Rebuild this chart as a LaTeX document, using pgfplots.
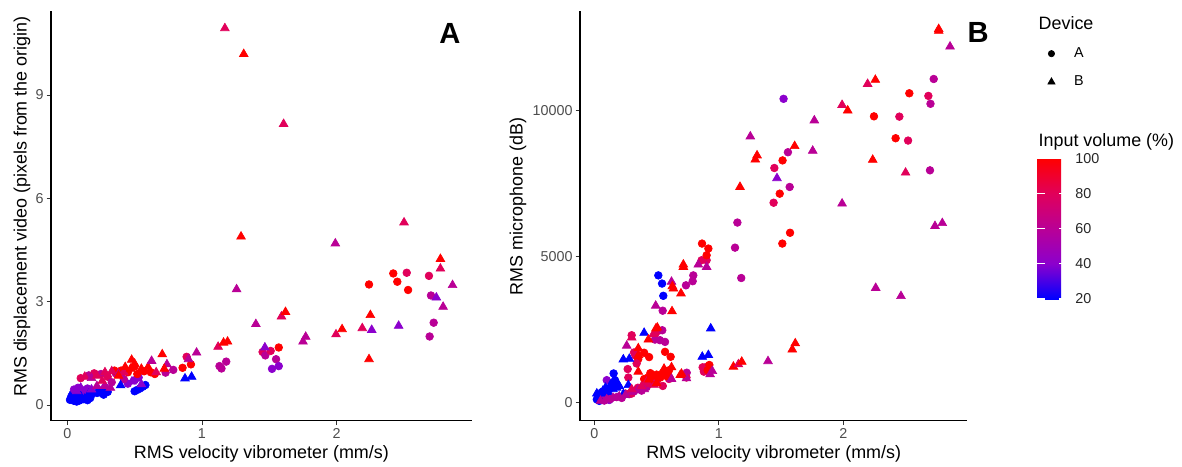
\documentclass[border=0pt]{standalone}
\usepackage{fontspec}
\setmainfont{Liberation Sans}
\usepackage{pgfplots}
\usepackage{pgfplotstable}
\pgfplotsset{compat=1.18}
\definecolor{tickgray}{HTML}{333333}
\definecolor{labgray}{HTML}{4D4D4D}
\pgfplotsset{colormap={bluered}{rgb255=(0,0,255) rgb255=(140,0,205) rgb255=(185,0,150) rgb255=(225,0,90) rgb255=(255,0,0)}}

\pgfplotstableread{
x y c
0.02 0.15 20
0.03 0.25 20
0.05 0.12 20
0.06 0.20 20
0.08 0.30 20
0.09 0.13 20
0.10 0.22 20
0.12 0.17 20
0.14 0.26 20
0.15 0.14 20
0.17 0.20 20
0.18 0.30 20
0.04 0.32 20
0.07 0.10 20
0.11 0.30 20
0.22 0.35 20
0.25 0.42 20
0.27 0.30 20
0.30 0.38 20
0.50 0.40 20
0.52 0.44 20
0.54 0.48 20
0.56 0.53 20
0.58 0.58 20
0.05 0.45 40
0.08 0.50 40
0.12 0.42 40
0.15 0.48 40
0.45 0.62 40
0.50 0.72 40
0.53 0.80 40
0.28 0.52 40
0.10 0.78 80
0.16 0.86 60
0.20 0.92 80
0.25 0.90 60
0.30 0.82 80
0.36 0.92 60
0.40 0.88 80
0.33 0.66 60
0.42 0.75 60
0.40 1.00 100
0.45 0.95 100
0.50 1.12 100
0.52 0.90 100
0.57 0.98 100
0.62 0.95 100
0.65 0.90 100
0.35 1.00 100
0.73 0.94 60
0.787 1.02 60
0.856 1.08 100
0.918 1.18 100
0.886 1.40 80
1.13 1.13 60
1.145 1.06 60
1.18 1.26 60
1.45 1.54 80
1.47 1.44 60
1.51 1.57 80
1.55 1.33 60
1.57 1.67 100
1.57 1.13 40
1.52 1.05 40
2.24 3.50 100
2.42 3.82 100
2.45 3.58 100
2.52 3.84 80
2.53 3.34 100
2.685 3.75 80
2.70 3.18 60
2.72 2.39 60
2.69 1.99 60
}\dataAA

\pgfplotstableread{
x y c
0.03 0.20 20
0.06 0.28 20
0.10 0.25 20
0.13 0.18 20
0.16 0.32 20
0.23 0.39 20
0.29 0.44 20
0.26 0.33 20
0.396 0.57 20
0.874 0.77 20
0.923 0.82 20
0.10 0.50 40
0.18 0.45 40
0.07 0.40 40
0.48 0.68 40
0.55 0.60 40
0.22 0.55 60
0.28 0.55 60
0.32 0.50 60
0.13 0.82 80
0.18 0.78 60
0.22 0.85 80
0.28 0.95 80
0.33 0.98 80
0.38 0.90 60
0.42 0.95 80
0.26 0.70 80
0.38 0.85 100
0.43 1.10 100
0.47 1.05 100
0.478 1.31 100
0.55 1.05 100
0.60 1.10 100
0.50 1.20 100
0.626 1.28 60
0.705 1.47 100
0.74 1.18 60
0.72 1.05 100
0.66 0.95 80
0.90 1.33 60
0.96 1.52 60
1.12 1.69 80
1.16 1.81 100
1.19 1.84 100
1.17 10.94 80
1.31 10.19 100
1.29 4.89 100
1.257 3.36 60
1.40 2.35 60
1.467 1.67 40
1.59 2.57 80
1.606 8.16 80
1.62 2.70 100
1.75 1.84 60
1.77 1.98 60
1.99 4.69 60
1.995 2.05 80
2.04 2.20 100
2.19 2.23 80
2.24 1.33 100
2.25 2.61 100
2.26 2.18 40
2.46 2.30 40
2.50 5.30 80
2.74 3.12 40
2.77 4.24 100
2.77 3.96 80
2.79 2.85 60
2.86 3.48 60
}\dataAB

\pgfplotstableread{
x y c
0.02 100 20
0.03 250 20
0.05 150 20
0.06 350 20
0.08 200 20
0.10 300 20
0.12 450 20
0.14 550 20
0.15 650 20
0.04 50 20
0.07 80 20
0.09 120 20
0.155 990 20
0.166 760 20
0.514 4350 20
0.544 4070 20
0.554 3650 20
0.10 760 40
0.08 100 40
0.12 80 40
0.08 60 60
0.13 120 60
0.18 180 60
0.22 150 60
0.28 280 60
0.32 380 60
0.38 400 60
0.42 520 60
0.25 300 80
0.30 300 80
0.35 500 80
0.40 600 80
0.45 650 80
0.50 700 80
0.55 560 80
0.60 800 80
0.40 800 100
0.43 850 100
0.46 900 100
0.48 750 100
0.50 950 100
0.53 850 100
0.55 1000 100
0.58 900 100
0.60 1100 100
0.45 1000 100
0.268 1140 80
0.273 850 80
0.319 1710 80
0.33 1600 80
0.353 1480 100
0.34 1330 80
0.40 1700 100
0.44 1550 100
0.49 2350 80
0.52 2460 80
0.30 2300 80
0.487 2150 60
0.527 2130 60
0.568 2070 60
0.546 2470 60
0.549 3140 60
0.568 1730 100
0.613 1560 100
0.58 1010 100
0.742 1015 60
0.74 850 80
0.87 1200 80
0.88 1050 80
0.902 1220 80
0.91 1100 100
0.924 1280 100
0.736 4010 60
0.79 4150 60
0.795 4350 60
0.862 4870 80
0.902 4870 80
0.902 5040 100
0.916 5270 100
0.865 5440 100
1.13 5300 60
1.149 6160 60
1.18 4260 60
1.44 6840 80
1.446 8030 80
1.489 7150 100
1.51 5440 100
1.512 8290 100
1.52 10400 40
1.555 8570 60
1.569 7380 60
1.572 5810 100
2.246 9800 100
2.42 9050 100
2.45 9790 80
2.52 8970 80
2.53 10590 100
2.683 10500 80
2.696 7950 60
2.70 10230 60
2.726 11080 60
}\dataBA

\pgfplotstableread{
x y c
0.02 300 20
0.03 200 20
0.05 300 20
0.07 400 20
0.09 500 20
0.11 350 20
0.13 600 20
0.15 450 20
0.18 500 20
0.20 560 20
0.233 285 20
0.273 590 20
0.19 620 20
0.233 1470 20
0.281 1490 20
0.40 2380 20
0.867 1560 20
0.916 1620 20
0.935 2530 20
0.05 50 60
0.10 100 60
0.15 150 60
0.20 200 60
0.25 250 60
0.30 350 60
0.35 420 60
0.40 450 60
0.30 450 80
0.38 550 80
0.42 700 80
0.48 600 80
0.44 780 100
0.50 650 100
0.56 1150 100
0.60 950 100
0.62 1200 100
0.353 1050 100
0.353 1850 100
0.355 1620 100
0.30 2220 80
0.26 1940 60
0.434 2150 100
0.474 2340 80
0.495 2530 100
0.506 2560 100
0.493 3310 60
0.624 3120 100
0.62 4130 60
0.627 3980 100
0.635 3900 100
0.696 3730 100
0.715 4720 100
0.715 4640 100
0.835 4720 60
0.902 4640 60
0.62 800 60
0.74 820 60
0.70 980 100
0.69 935 100
0.93 960 60
0.948 1070 60
1.117 1220 100
1.157 1300 80
1.184 1390 100
1.395 1410 60
1.59 1810 100
1.614 2020 100
1.17 7380 100
1.253 9110 60
1.293 8320 100
1.307 8460 100
1.467 7680 40
1.609 8780 100
1.754 8620 60
1.767 9660 60
1.99 6810 60
1.99 10190 80
2.035 10000 100
2.195 10910 80
2.236 8310 100
2.257 11050 100
2.26 3920 60
2.463 3640 60
2.50 7870 80
2.736 6040 60
2.795 6140 60
2.766 12790 100
2.766 12730 100
2.857 12190 60
}\dataBB

\pgfplotsset{
  panel/.style={
    scale only axis, anchor=south west, height=245.9pt,
    axis x line*=bottom, axis y line*=left,
    axis line style={-, line width=0.9pt, black},
    every tick/.style={tickgray, line width=0.55pt},
    major tick length=2.7pt, tick align=outside,
    ticklabel style={font=\fontsize{8.6}{10}\selectfont, text=labgray},
    xticklabel style={inner sep=1.7pt},
    yticklabel style={inner sep=1.6pt},
    label style={font=\fontsize{10.75}{12}\selectfont},
    xlabel style={at={(axis description cs:0.5,-0.0817)}, anchor=center},
    colormap name=bluered, point meta min=20, point meta max=100,
    clip=false,
    /pgf/number format/assume math mode=true,
    xtick={0,1,2}, xticklabels={0,1,2},
  },
  dots/.style={scatter, only marks, mark=*, mark size=2.3pt, point meta=explicit,
    scatter/use mapped color={draw=mapped color, fill=mapped color}, forget plot},
  tris/.style={scatter, only marks, mark=triangle*, mark size=3.0pt, point meta=explicit,
    scatter/use mapped color={draw=mapped color, fill=mapped color}, forget plot},
}

\begin{document}
\begin{tikzpicture}
\path[use as bounding box] (0,0) rectangle (709.2pt,279.6pt);

% Panel A
\begin{axis}[panel, at={(30.7pt,27.3pt)}, width=252.3pt,
  xmin=-0.1195, xmax=3.002, ymin=-0.45, ymax=11.45,
  ytick={0,3,6,9}, yticklabels={0,3,6,9},
  xlabel={RMS velocity vibrometer (mm/s)},
  ylabel={RMS displacement video (pixels from the origin)},
  ylabel style={at={(axis description cs:-0.0694,0.522)}, anchor=center},
]
\addplot[dots] table[x=x, y=y, meta=c] {\dataAA};
\addplot[tris] table[x=x, y=y, meta=c] {\dataAB};
\node[font=\bfseries\fontsize{17.5}{20}\selectfont] at (rel axis cs:0.948,0.9456) {A};
\end{axis}

% Panel B
\begin{axis}[panel, at={(348pt,27.3pt)}, width=232.4pt,
  xmin=-0.115, xmax=2.996, ymin=-623, ymax=13421,
  ytick={0,5000,10000}, yticklabels={0,5000,10000}, scaled y ticks=false,
  xlabel={RMS velocity vibrometer (mm/s)},
  ylabel={RMS microphone (dB)},
  ylabel style={at={(axis description cs:-0.160,0.522)}, anchor=center},
  legend style={draw=none, fill=none, at={(axis description cs:1.207,0.9305)},
    anchor=north west, inner sep=0pt, row sep=0pt,
    font=\fontsize{8.6}{10}\selectfont,
    nodes={inner sep=0pt, minimum height=17pt},
    /tikz/every odd column/.append style={column sep=11.5pt}},
  legend cell align=left,
  legend image code/.code={\draw[#1] plot coordinates {(0pt,0pt)};},
]
\addplot[dots] table[x=x, y=y, meta=c] {\dataBA};
\addplot[tris] table[x=x, y=y, meta=c] {\dataBB};
\addlegendimage{mark=*, black, mark size=1.9pt}
\addlegendentry{A}
\addlegendimage{mark=triangle*, black, mark size=2.5pt}
\addlegendentry{B}
\node[font=\bfseries\fontsize{17.5}{20}\selectfont] at (rel axis cs:1.0276,0.948) {B};
\end{axis}

% Colour bar (attached to a hidden helper axis)
\begin{axis}[hide axis, scale only axis, anchor=south west, at={(622.4pt,100.2pt)},
  width=17.6pt, height=84.4pt, xmin=0, xmax=1, ymin=0, ymax=1,
  colormap name=bluered, point meta min=20, point meta max=100,
  colorbar,
  colorbar shift/.style={xshift=0pt},
  colorbar style={
    at={(parent axis.south west)}, anchor=south west,
    width=17.6pt, height=84.4pt,
    axis line style={draw=none},
    ytick={20,40,60,80,100}, yticklabels={20,40,60,80,100},
    yticklabel pos=right, ytick pos=both, tick align=inside,
    major tick length=4.4pt,
    every tick/.style={draw=white, line width=0.7pt},
    yticklabel style={font=\fontsize{8.6}{10}\selectfont, text=black!85,
      inner sep=0pt, xshift=5pt, anchor=west},
    axis on top,
  },
]
\end{axis}

\node[anchor=west, inner sep=0pt, font=\fontsize{10.75}{12}\selectfont] at (623pt,265.8pt) {Device};
\node[anchor=west, inner sep=0pt, font=\fontsize{10.75}{12}\selectfont] at (623pt,194.6pt) {Input volume (\%)};
\end{tikzpicture}
\end{document}
